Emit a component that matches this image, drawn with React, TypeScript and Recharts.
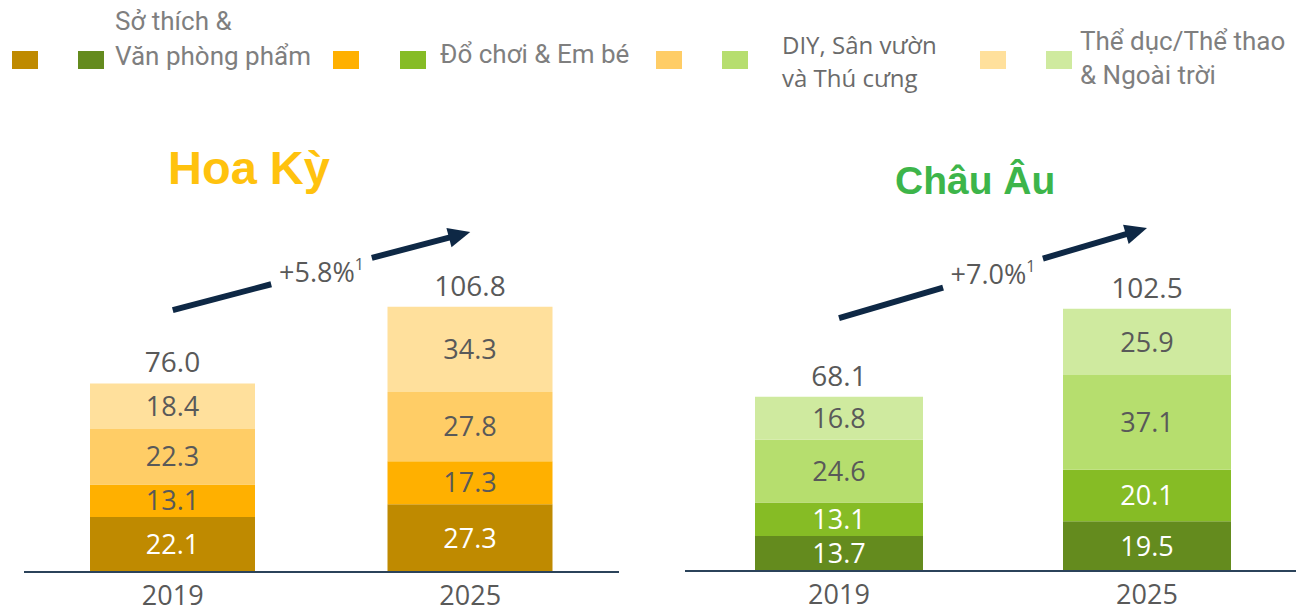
import React from 'react';
import { BarChart, Bar, XAxis, YAxis, LabelList, ReferenceLine } from 'recharts';

const years = ['2019', '2025'];

const usHobby = [22.1, 27.3];
const usToys = [13.1, 17.3];
const usDiy = [22.3, 27.8];
const usSports = [18.4, 34.3];
const usTotal = [76.0, 106.8];
const usArrow = [105.4, 136.8];
const usGrowth = '+5.8%';

const euHobby = [13.7, 19.5];
const euToys = [13.1, 20.1];
const euDiy = [24.6, 37.1];
const euSports = [16.8, 25.9];
const euTotal = [68.1, 102.5];
const euArrow = [99.0, 134.2];
const euGrowth = '+7.0%';

const usColors = ['#BF8A00', '#FFB000', '#FFCD66', '#FFE09C'];
const euColors = ['#648B1E', '#86BC25', '#B6DE6E', '#CFEA9F'];
const usLabelColors = ['#FFFFFF', '#595959', '#595959', '#595959'];
const euLabelColors = ['#FFFFFF', '#FFFFFF', '#595959', '#595959'];

const legendLabels = ['Sở thích &\nVăn phòng phẩm', 'Đổ chơi & Em bé', 'DIY, Sân vườn\nvà Thú cưng', 'Thể dục/Thể thao\n& Ngoài trời'];

const navy = '#0E2845';
const textGray = '#595959';

const build = (h: number[], t: number[], d: number[], s: number[], tot: number[], arr: number[]) =>
  years.map((year, i) => ({ year, hobby: h[i], toys: t[i], diy: d[i], sports: s[i], total: tot[i], arrow: arr[i] }));

const usData = build(usHobby, usToys, usDiy, usSports, usTotal, usArrow);
const euData = build(euHobby, euToys, euDiy, euSports, euTotal, euArrow);

const fmt = (v: any) => Number(v).toFixed(1);

const makeArrow = (label: string) => (props: any) => {
  const { x1, y1, x2, y2 } = props;
  if (x1 == null || y1 == null) return <g />;
  const dx = x2 - x1;
  const dy = y2 - y1;
  const len = Math.hypot(dx, dy);
  const ux = dx / len;
  const uy = dy / len;
  const nx = -uy;
  const ny = ux;
  const mx = (x1 + x2) / 2;
  const my = (y1 + y2) / 2;
  const gap = 52;
  const head = 22;
  const hw = 10;
  const bx = x2 - ux * head;
  const by = y2 - uy * head;
  return (
    <g>
      <line x1={x1} y1={y1} x2={mx - ux * gap} y2={my - uy * gap} stroke={navy} strokeWidth={6} />
      <line x1={mx + ux * gap} y1={my + uy * gap} x2={bx + ux * 2} y2={by + uy * 2} stroke={navy} strokeWidth={6} />
      <polygon points={`${x2},${y2} ${bx + nx * hw},${by + ny * hw} ${bx - nx * hw},${by - ny * hw}`} fill={navy} />
      <text x={mx} y={my} textAnchor="middle" dominantBaseline="central" fontSize={27} fill={textGray}>
        {label}
        <tspan fontSize={16} dy={-7}>1</tspan>
      </text>
    </g>
  );
};

const keys = ['hobby', 'toys', 'diy', 'sports'];

function Panel(props: {
  data: any[];
  colors: string[];
  labelColors: string[];
  growth: string;
  width: number;
  top: number;
  axisH: number;
  left: number;
  right: number;
  barSize: number;
}) {
  const { data, colors, labelColors, growth, width, top, axisH, left, right, barSize } = props;
  return (
    <BarChart width={width} height={615} data={data} margin={{ top, right, bottom: 0, left }} barCategoryGap={0}>
      <XAxis
        dataKey="year"
        height={axisH}
        tickLine={false}
        axisLine={{ stroke: '#2B435A', strokeWidth: 2 }}
        tick={{ fontSize: 27, fill: textGray }}
        tickMargin={8}
      />
      <YAxis hide domain={[0, 200]} />
      {keys.map((k, i) => (
        <Bar key={k} dataKey={k} stackId="a" fill={colors[i]} barSize={barSize} isAnimationActive={false}>
          <LabelList dataKey={k} position="center" fill={labelColors[i]} fontSize={27} formatter={fmt} />
          {i === 3 ? (
            <LabelList dataKey="total" position="top" offset={11} fill={textGray} fontSize={28} formatter={fmt} />
          ) : null}
        </Bar>
      ))}
      <ReferenceLine
        segment={[
          { x: data[0].year, y: data[0].arrow },
          { x: data[1].year, y: data[1].arrow },
        ]}
        shape={makeArrow(growth)}
        ifOverflow="visible"
      />
    </BarChart>
  );
}

const Swatch = ({ x, color }: { x: number; color: string }) => (
  <div style={{ position: 'absolute', left: x, top: 51, width: 26, height: 18, background: color }} />
);

const narrow = '"Liberation Sans Narrow", "Arial Narrow", "Roboto", sans-serif';

export default function App() {
  const [l1a, l1b] = legendLabels[0].split('\n');
  const [l3a, l3b] = legendLabels[2].split('\n');
  const [l4a, l4b] = legendLabels[3].split('\n');
  return (
    <div
      style={{
        position: 'absolute',
        left: 0,
        top: 0,
        width: 1296,
        height: 615,
        overflow: 'hidden',
        background: '#FFFFFF',
        fontFamily: '"Open Sans", sans-serif',
      }}
    >
      <div style={{ position: 'absolute', left: 0, top: 0 }}>
        <Panel
          data={usData}
          colors={usColors}
          labelColors={usLabelColors}
          growth={usGrowth}
          width={650}
          top={75}
          axisH={43}
          left={24}
          right={31}
          barSize={165}
        />
      </div>
      <div style={{ position: 'absolute', left: 640, top: 0 }}>
        <Panel
          data={euData}
          colors={euColors}
          labelColors={euLabelColors}
          growth={euGrowth}
          width={672}
          top={60}
          axisH={44}
          left={45}
          right={11}
          barSize={168}
        />
      </div>

      <div style={{ position: 'absolute', left: 168, top: 140, fontFamily: '"Liberation Sans", Arial, sans-serif', fontWeight: 'bold', fontSize: 47, color: '#FFC20E', lineHeight: '56px', whiteSpace: 'nowrap' }}>
        Hoa Kỳ
      </div>
      <div style={{ position: 'absolute', left: 895, top: 157, fontFamily: '"Liberation Sans", Arial, sans-serif', fontWeight: 'bold', fontSize: 39, color: '#3DB54A', lineHeight: '48px', whiteSpace: 'nowrap' }}>
        Châu Âu
      </div>

      <Swatch x={12} color={usColors[0]} />
      <Swatch x={78} color={euColors[0]} />
      <Swatch x={333} color={usColors[1]} />
      <Swatch x={400} color={euColors[1]} />
      <Swatch x={656} color={usColors[2]} />
      <Swatch x={722} color={euColors[2]} />
      <Swatch x={980} color={usColors[3]} />
      <Swatch x={1046} color={euColors[3]} />

      <div style={{ position: 'absolute', left: 115, top: 4, fontFamily: narrow, fontSize: 26, color: '#7F7F7F', lineHeight: '35px', whiteSpace: 'nowrap' }}>
        {l1a}
        <br />
        {l1b}
      </div>
      <div style={{ position: 'absolute', left: 440, top: 37, fontFamily: narrow, fontSize: 26, color: '#7F7F7F', lineHeight: '35px', whiteSpace: 'nowrap' }}>
        {legendLabels[1]}
      </div>
      <div style={{ position: 'absolute', left: 782, top: 28, fontSize: 24, color: '#6B6B6B', lineHeight: '33px', whiteSpace: 'nowrap' }}>
        {l3a}
        <br />
        {l3b}
      </div>
      <div style={{ position: 'absolute', left: 1080, top: 24, fontFamily: narrow, fontSize: 26, color: '#7F7F7F', lineHeight: '34px', whiteSpace: 'nowrap' }}>
        {l4a}
        <br />
        {l4b}
      </div>
    </div>
  );
}
